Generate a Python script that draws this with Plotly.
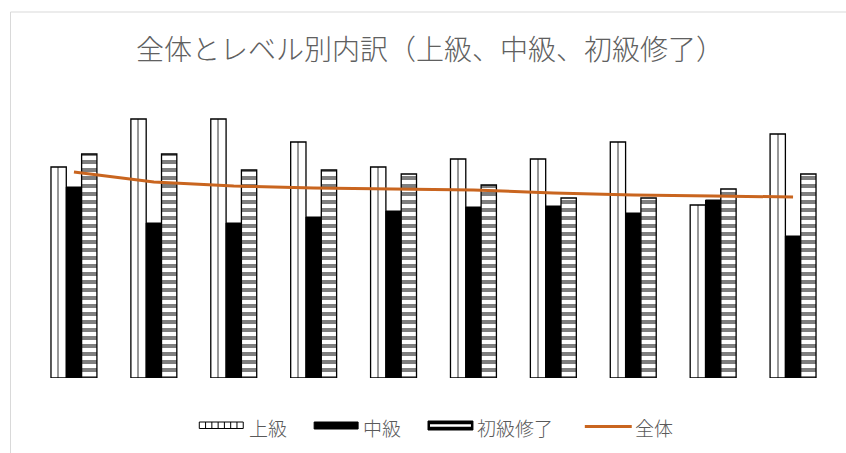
import plotly.graph_objects as go

categories = [f"G{i}" for i in range(1, 11)]
joukyu = [211, 259, 259, 236, 211, 219, 219, 236, 173, 244]
chukyu = [191, 155, 155, 161, 167, 171, 172, 165, 178, 142]
shokyu = [224, 224, 208, 208, 204, 193, 180, 180, 189, 204]
zentai = [206, 196, 192, 190, 189, 188, 185, 183, 182, 181]
series_names = ["上級", "中級", "初級修了", "全体"]

# plot area in pixels (for decorations only)
PL, PR, PT, PB = 33.5, 833.5, 78, 378


def px(x):
    return (x - PL) / (PR - PL)


def py(y):
    return (PB - y) / (PB - PT)


fig = go.Figure()
fig.add_trace(go.Bar(
    x=categories, y=joukyu, name=series_names[0], showlegend=False,
    marker=dict(color="white", line=dict(color="black", width=1.3),
                pattern=dict(shape="|", size=16, solidity=0.1, fgcolor="black", bgcolor="white")),
))
fig.add_trace(go.Bar(
    x=categories, y=chukyu, name=series_names[1], showlegend=False,
    marker=dict(color="black", line=dict(color="black", width=1)),
))
fig.add_trace(go.Bar(
    x=categories, y=shokyu, name=series_names[2], showlegend=False,
    marker=dict(color="white", line=dict(color="black", width=1.3),
                pattern=dict(shape="-", size=8, solidity=0.5, fgcolor="black", bgcolor="white")),
))
fig.add_trace(go.Scatter(
    x=categories, y=zentai, name=series_names[3], mode="lines", showlegend=False,
    line=dict(color="#C9651F", width=3),
))

shapes = []
# chart border
shapes.append(dict(type="rect", xref="paper", yref="paper",
                   x0=px(10), x1=px(860), y0=py(470), y1=py(12),
                   line=dict(color="#D9D9D9", width=1), fillcolor="rgba(0,0,0,0)", layer="below"))
# legend symbol: 上級
shapes.append(dict(type="rect", xref="paper", yref="paper", x0=px(199), x1=px(243), y0=py(428.5), y1=py(422),
                   line=dict(color="black", width=1), fillcolor="white"))
for k in range(1, 7):
    xx = 199 + k * 44 / 7
    shapes.append(dict(type="line", xref="paper", yref="paper", x0=px(xx), x1=px(xx), y0=py(428.5), y1=py(422),
                       line=dict(color="black", width=1)))
# legend symbol: 中級
shapes.append(dict(type="rect", xref="paper", yref="paper", x0=px(314), x1=px(358), y0=py(429), y1=py(422),
                   line=dict(color="black", width=1), fillcolor="black"))
# legend symbol: 初級修了
shapes.append(dict(type="rect", xref="paper", yref="paper", x0=px(428), x1=px(473), y0=py(430), y1=py(421),
                   line=dict(color="black", width=1), fillcolor="black"))
shapes.append(dict(type="line", xref="paper", yref="paper", x0=px(430), x1=px(471), y0=py(425.5), y1=py(425.5),
                   line=dict(color="white", width=2.5)))
# legend symbol: 全体
shapes.append(dict(type="line", xref="paper", yref="paper", x0=px(585), x1=px(632), y0=py(426.5), y1=py(426.5),
                   line=dict(color="#C9651F", width=3)))

legend_text_x = [247, 361, 475, 633]
annotations = []
for name, lx in zip(series_names, legend_text_x):
    annotations.append(dict(text=name, xref="paper", yref="paper", x=px(lx), y=py(427),
                            xanchor="left", yanchor="middle", showarrow=False,
                            font=dict(family="Noto Sans CJK JP", size=19, color="#595959", weight=300)))

fig.update_layout(
    width=846, height=453,
    margin=dict(l=PL, r=846 - PR, t=PT, b=453 - PB, autoexpand=False),
    paper_bgcolor="white", plot_bgcolor="white",
    barmode="group", bargap=0.425, bargroupgap=0,
    showlegend=False,
    title=dict(text="全体とレベル別内訳（上級、中級、初級修了）", x=430 / 846, xanchor="center",
               y=1 - 50 / 453, yanchor="middle",
               font=dict(family="Noto Sans CJK JP", size=28, color="#606060", weight=300)),
    font=dict(family="Noto Sans CJK JP", color="#595959"),
    shapes=shapes,
    annotations=annotations,
    xaxis=dict(showticklabels=False, showgrid=False, zeroline=False, showline=False,
               range=[-0.5, 9.5]),
    yaxis=dict(showticklabels=False, showgrid=False, zeroline=False, showline=False,
               range=[0, 300]),
)

fig.write_html("out.html")
